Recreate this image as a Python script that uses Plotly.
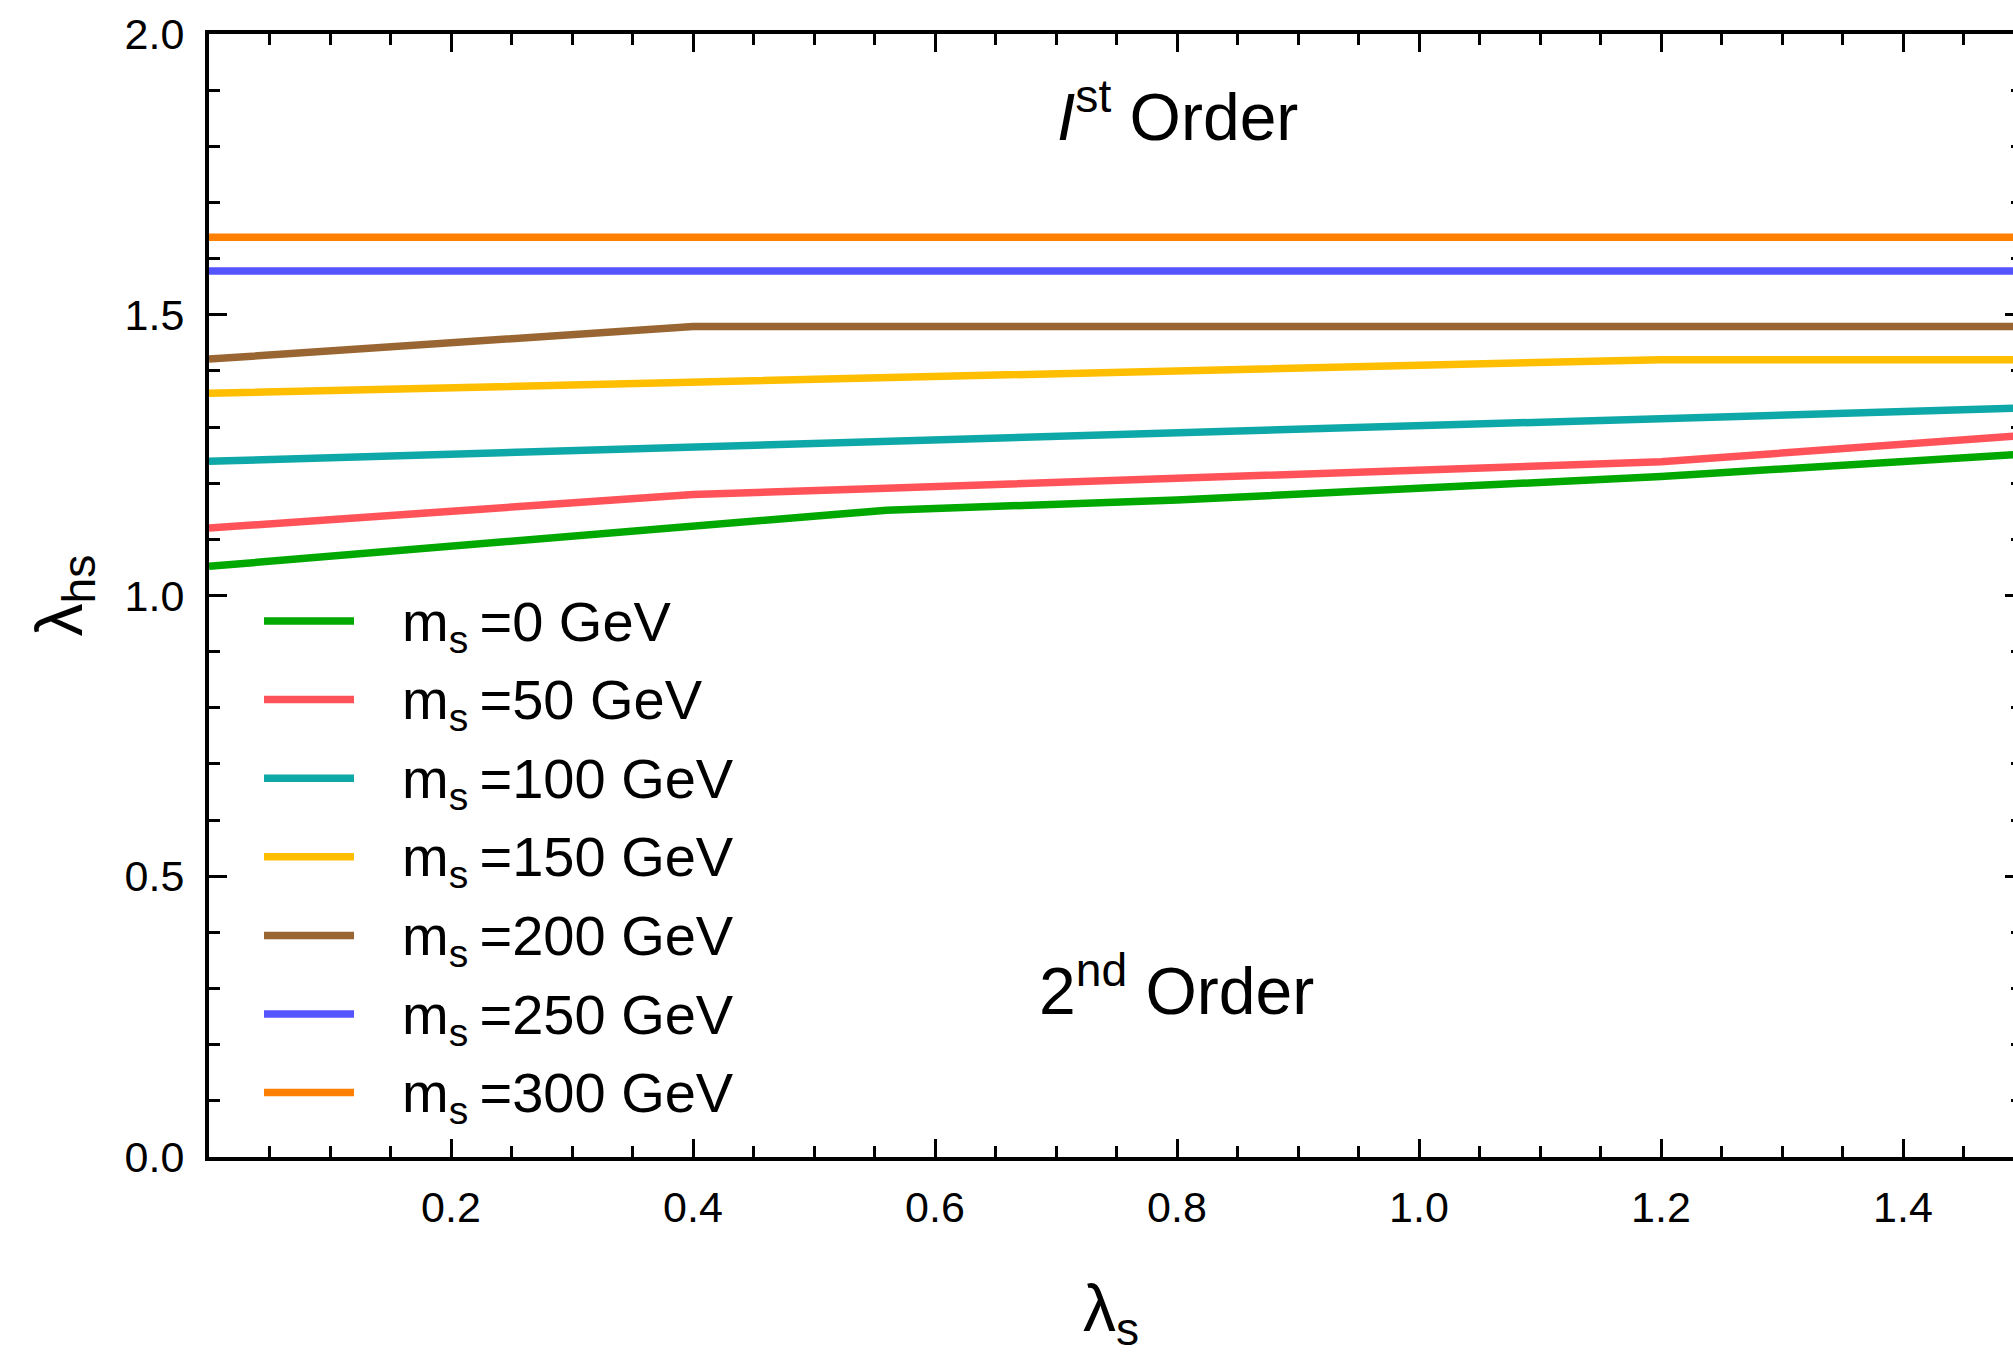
import plotly.graph_objects as go

# ---------------- data ----------------
lambda_s = [0.0, 0.4, 0.56, 0.8, 1.2, 1.5]
masses = [0, 50, 100, 150, 200, 250, 300]
lam_hs_0 = [1.052, 1.124, 1.152, 1.170, 1.212, 1.252]
lam_hs_50 = [1.120, 1.180, 1.191, 1.208, 1.238, 1.285]
lam_hs_100 = [1.239, 1.264, 1.274, 1.290, 1.315, 1.334]
lam_hs_150 = [1.360, 1.380, 1.388, 1.400, 1.420, 1.420]
lam_hs_200 = [1.421, 1.479, 1.479, 1.479, 1.479, 1.479]
lam_hs_250 = [1.578, 1.578, 1.578, 1.578, 1.578, 1.578]
lam_hs_300 = [1.638, 1.638, 1.638, 1.638, 1.638, 1.638]
series = [lam_hs_0, lam_hs_50, lam_hs_100, lam_hs_150, lam_hs_200, lam_hs_250, lam_hs_300]
colors = ["#00A800", "#FF5359", "#0FA8A8", "#FFBE00", "#996633", "#5555FF", "#FF8000"]

x_ticks = [0.2, 0.4, 0.6, 0.8, 1.0, 1.2, 1.4]
x_tick_labels = ["0.2", "0.4", "0.6", "0.8", "1.0", "1.2", "1.4"]
y_ticks = [0.0, 0.5, 1.0, 1.5, 2.0]
y_tick_labels = ["0.0", "0.5", "1.0", "1.5", "2.0"]

FONT = "Liberation Sans, Arial, Helvetica, sans-serif"
LW = 7.5

fig = go.Figure()
for m, ys, c in zip(masses, series, colors):
    fig.add_trace(go.Scatter(x=lambda_s, y=ys, mode="lines",
                             line=dict(color=c, width=LW),
                             name=f"m<sub>s</sub>={m} GeV", showlegend=False))

# dummy trace to activate the right-hand tick axis
fig.add_trace(go.Scatter(x=[0], y=[0], mode="lines", yaxis="y2",
                         showlegend=False, hoverinfo="skip"))

# ---------------- layout geometry (pixels) ----------------
W, H = 2013, 1355
L, T, B = 209, 34, 198
PW = W - L
PH = H - T - B

def px2paper_x(px):
    return (px - L) / PW

def px2paper_y(py):
    return (H - B - py) / PH

# custom legend
leg_y0, leg_step = 621, 78.6
shapes = []
annotations = []
for i, (m, c) in enumerate(zip(masses, colors)):
    py = leg_y0 + i * leg_step
    shapes.append(dict(type="line", xref="paper", yref="paper",
                       x0=px2paper_x(264), x1=px2paper_x(354),
                       y0=px2paper_y(py), y1=px2paper_y(py),
                       line=dict(color=c, width=LW)))
    annotations.append(dict(xref="paper", yref="paper",
                            x=px2paper_x(400), y=px2paper_y(py),
                            xanchor="left", yanchor="middle", showarrow=False,
                            text=f"m<sub>s</sub>\u2009={m} GeV",
                            font=dict(size=56, family=FONT, color="black"),
                            yshift=-4))

annotations.append(dict(xref="paper", yref="paper",
                        x=px2paper_x(1177), y=px2paper_y(112),
                        xanchor="center", yanchor="middle", showarrow=False,
                        text="<i>I</i><sup>st</sup> Order",
                        font=dict(size=66, family=FONT, color="black")))
annotations.append(dict(xref="paper", yref="paper",
                        x=px2paper_x(1176), y=px2paper_y(986),
                        xanchor="center", yanchor="middle", showarrow=False,
                        text="2<sup>nd</sup> Order",
                        font=dict(size=66, family=FONT, color="black")))

fig.update_layout(
    width=W, height=H,
    margin=dict(l=L, r=0, t=T, b=B, pad=0),
    plot_bgcolor="white", paper_bgcolor="white",
    font=dict(family=FONT, color="black"),
    showlegend=False,
    shapes=shapes, annotations=annotations,
    xaxis=dict(range=[0, PW / 1210.0],
               tickvals=x_ticks, ticktext=x_tick_labels,
               ticks="inside", ticklen=18, tickwidth=2.5, tickcolor="black",
               showline=True, linewidth=4, linecolor="black", mirror="ticks",
               showgrid=False, zeroline=False,
               minor=dict(dtick=0.05, tick0=0, ticks="inside", ticklen=11,
                          tickwidth=2.5, tickcolor="black", showgrid=False),
               tickfont=dict(size=43, family=FONT, color="black"),
               ticklabelstandoff=9,
               title=dict(text="λ<sub>s</sub>", font=dict(size=66, family=FONT),
                          standoff=60)),
    yaxis=dict(range=[0, 2],
               tickvals=y_ticks, ticktext=y_tick_labels,
               ticks="inside", ticklen=18, tickwidth=2.5, tickcolor="black",
               showline=True, linewidth=4, linecolor="black", mirror=False,
               showgrid=False, zeroline=False,
               minor=dict(dtick=0.1, tick0=0, ticks="inside", ticklen=11,
                          tickwidth=2.5, tickcolor="black", showgrid=False),
               tickfont=dict(size=43, family=FONT, color="black"),
               ticklabelstandoff=12,
               title=dict(text="λ<sub>hs</sub>", font=dict(size=66, family=FONT),
                          standoff=22)),
    yaxis2=dict(range=[0, 2], overlaying="y", side="right",
                tickvals=y_ticks, showticklabels=False,
                ticks="inside", ticklen=8, tickwidth=2.5, tickcolor="black",
                showline=False, showgrid=False, zeroline=False,
                minor=dict(dtick=0.1, tick0=0, ticks="inside", ticklen=2,
                           tickwidth=2.5, tickcolor="black", showgrid=False)),
)

fig.write_html("out.html")
